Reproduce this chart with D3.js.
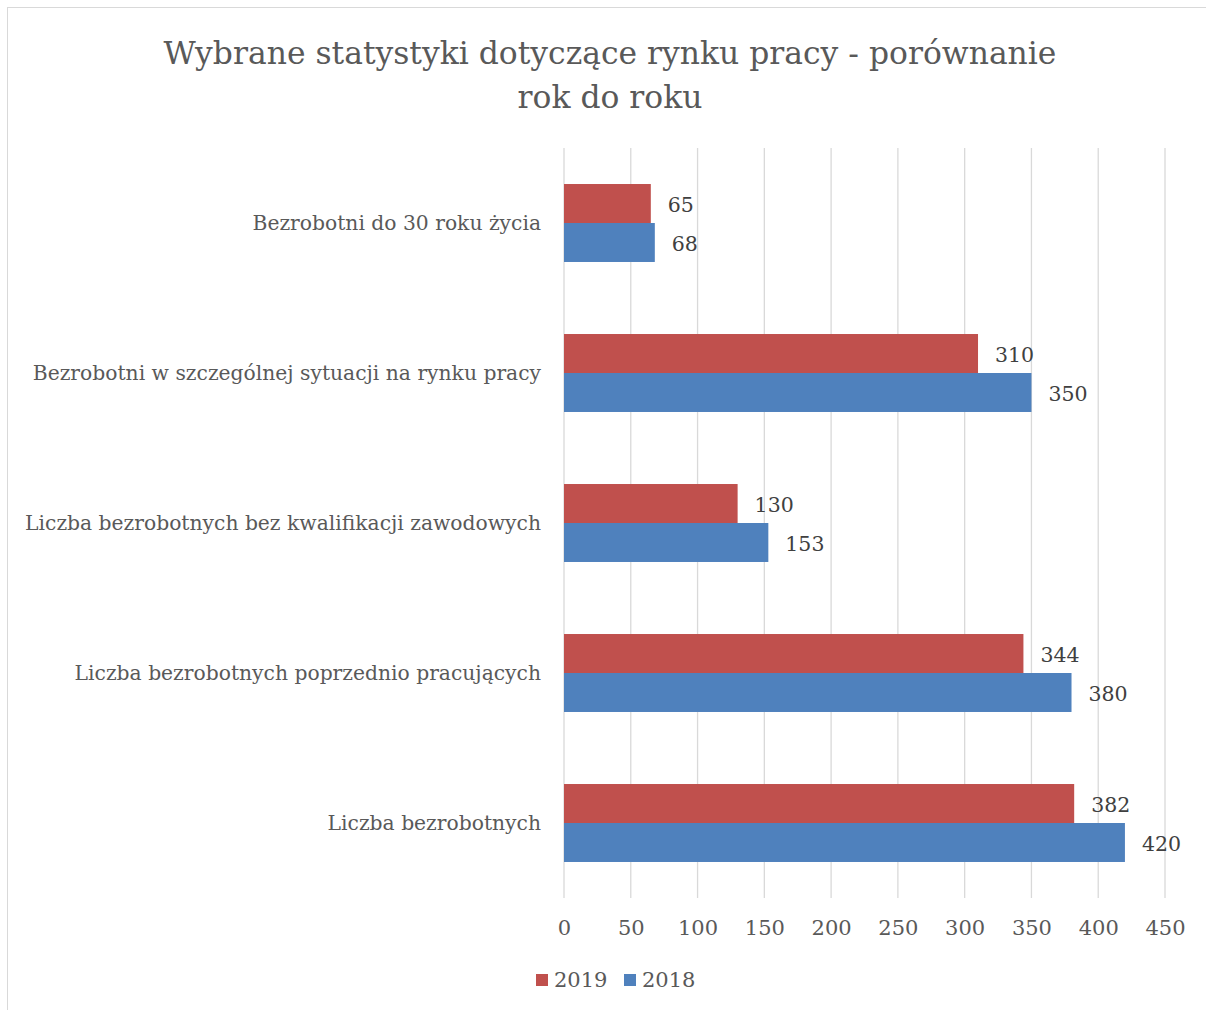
<!DOCTYPE html>
<html>
<head>
<meta charset="utf-8">
<script src="https://cdn.jsdelivr.net/npm/d3@7"></script>
<style>
  body { margin: 0; background: #fff; }
  text { font-family: "DejaVu Serif", serif; }
</style>
</head>
<body>
<svg id="chart" width="1206" height="1010"></svg>
<script>
let categories = [
    'Bezrobotni do 30 roku życia',
    'Bezrobotni w szczególnej sytuacji na rynku pracy',
    'Liczba bezrobotnych bez kwalifikacji zawodowych',
    'Liczba bezrobotnych poprzednio pracujących',
    'Liczba bezrobotnych'
];
let seriesNames = ['2019', '2018'];
let values2019 = [65, 310, 130, 344, 382];
let values2018 = [68, 350, 153, 380, 420];
let tickValues = [0, 50, 100, 150, 200, 250, 300, 350, 400, 450];
let titleLines = ['Wybrane statystyki dotyczące rynku pracy - porównanie', 'rok do roku'];
let colors = ['#C0504D', '#4F81BD'];

let svg = d3.select('#chart');

svg.append('rect')
    .attr('x', 7.5).attr('y', 7.5)
    .attr('width', 1210).attr('height', 1010)
    .attr('fill', '#fff')
    .attr('stroke', '#d9d9d9');

let x = d3.scaleLinear().domain([0, 450]).range([564, 1165]);
let y = d3.scaleBand().domain(categories).range([148, 898]).paddingInner(0).paddingOuter(0);
let inner = d3.scaleBand().domain(seriesNames).range([0, y.bandwidth()]).paddingInner(0).paddingOuter(0.924);

// title
svg.append('text')
    .attr('x', 610).attr('y', 64)
    .attr('text-anchor', 'middle')
    .attr('fill', '#595959')
    .style('font-size', '31.4px')
    .selectAll('tspan')
    .data(titleLines)
    .join('tspan')
    .attr('x', 610)
    .attr('dy', (d, i) => i === 0 ? 0 : 44)
    .text(d => d);

// grid
svg.append('g')
    .selectAll('line')
    .data(tickValues)
    .join('line')
    .attr('x1', d => x(d)).attr('x2', d => x(d))
    .attr('y1', 148).attr('y2', 898)
    .attr('stroke', '#d9d9d9')
    .attr('stroke-width', 1.3);

// x axis
let xAxis = svg.append('g')
    .attr('transform', 'translate(0,898)')
    .call(d3.axisBottom(x).tickValues(tickValues).tickSize(0).tickPadding(22));
xAxis.select('.domain').remove();
xAxis.selectAll('text')
    .attr('fill', '#595959')
    .style('font-size', '21px')
    .style('font-family', '"DejaVu Serif", serif');

// y axis labels
let yAxis = svg.append('g')
    .attr('transform', 'translate(564,0)')
    .call(d3.axisLeft(y).tickSize(0).tickPadding(23));
yAxis.select('.domain').remove();
yAxis.selectAll('text')
    .attr('fill', '#595959')
    .style('font-size', '20.3px')
    .style('font-family', '"DejaVu Serif", serif');

let rows = categories.map((c, i) => ({ cat: c, vals: [values2019[i], values2018[i]] }));

let groups = svg.append('g')
    .selectAll('g')
    .data(rows)
    .join('g')
    .attr('transform', d => 'translate(0,' + y(d.cat) + ')');

groups.selectAll('rect')
    .data(d => d.vals.map((v, j) => ({ key: seriesNames[j], v: v, j: j })))
    .join('rect')
    .attr('x', x(0))
    .attr('y', d => inner(d.key))
    .attr('width', d => x(d.v) - x(0))
    .attr('height', inner.bandwidth())
    .attr('fill', d => colors[d.j]);

groups.selectAll('text.lbl')
    .data(d => d.vals.map((v, j) => ({ key: seriesNames[j], v: v })))
    .join('text')
    .attr('class', 'lbl')
    .attr('x', d => x(d.v) + 17)
    .attr('y', d => inner(d.key) + inner.bandwidth() / 2 + 1)
    .attr('dy', '0.35em')
    .attr('fill', '#404040')
    .style('font-size', '20.5px')
    .text(d => d.v);

// legend
let legend = svg.append('g').attr('transform', 'translate(536,980)');
let items = legend.selectAll('g')
    .data(seriesNames)
    .join('g')
    .attr('transform', (d, i) => 'translate(' + (i * 88) + ',0)');
items.append('rect')
    .attr('x', 0).attr('y', -6)
    .attr('width', 12).attr('height', 12)
    .attr('fill', (d, i) => colors[i]);
items.append('text')
    .attr('x', 18).attr('y', 0)
    .attr('dy', '0.35em')
    .attr('fill', '#595959')
    .style('font-size', '21px')
    .text(d => d);
</script>
</body>
</html>
